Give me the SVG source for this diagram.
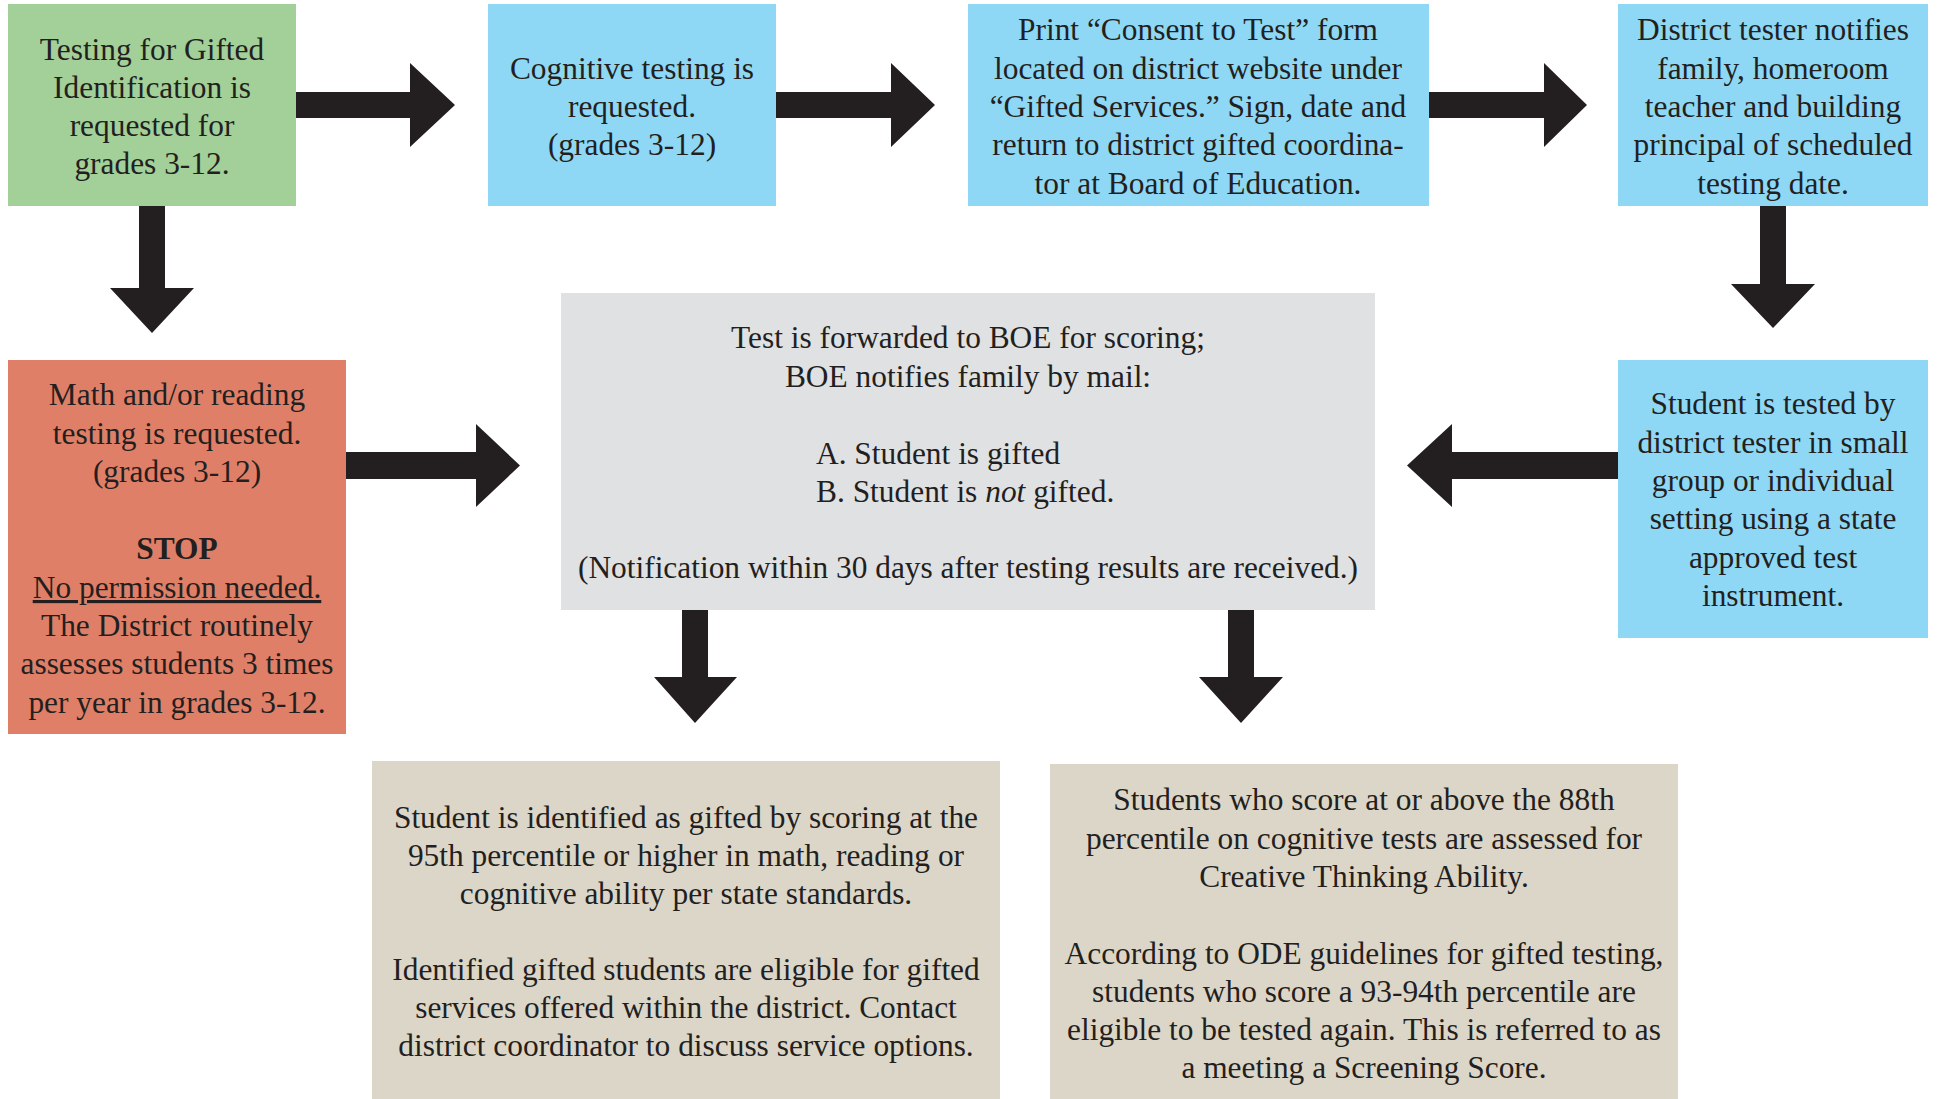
<svg xmlns="http://www.w3.org/2000/svg" width="1937" height="1099" viewBox="0 0 1937 1099">
<style>
text{font-family:"Liberation Serif","Times New Roman",serif;font-size:31.4px;fill:#231f20;text-anchor:middle}
.l{text-anchor:start}
.g{fill:#a3cf98}.b{fill:#8ed8f5}.r{fill:#e07f67}.gr{fill:#e0e1e3}.be{fill:#dcd6c9}
.arr{fill:#231f20}
</style>
<rect width="1937" height="1099" fill="#fff"/>
<g id="n1"><rect class="g" x="8" y="4" width="288" height="202"/>
<text x="152" y="60">Testing for Gifted</text><text x="152" y="98">Identification is</text><text x="152" y="136">requested for</text><text x="152" y="174">grades 3-12.</text></g>
<g id="n2"><rect class="b" x="488" y="4" width="288" height="202"/>
<text x="632" y="79">Cognitive testing is</text><text x="632" y="117">requested.</text><text x="632" y="155">(grades 3-12)</text></g>
<g id="n3"><rect class="b" x="968" y="4" width="461" height="202"/>
<text x="1198" y="40">Print “Consent to Test” form</text><text x="1198" y="79">located on district website under</text><text x="1198" y="117">“Gifted Services.” Sign, date and</text><text x="1198" y="155">return to district gifted coordina-</text><text x="1198" y="194">tor at Board of Education.</text></g>
<g id="n4"><rect class="b" x="1618" y="4" width="310" height="202"/>
<text x="1773" y="40">District tester notifies</text><text x="1773" y="79">family, homeroom</text><text x="1773" y="117">teacher and building</text><text x="1773" y="155">principal of scheduled</text><text x="1773" y="194">testing date.</text></g>
<g id="n5"><rect class="r" x="8" y="360" width="338" height="374"/>
<text x="177" y="405">Math and/or reading</text><text x="177" y="444">testing is requested.</text><text x="177" y="482">(grades 3-12)</text>
<text x="177" y="559" font-weight="bold">STOP</text>
<text x="177" y="598" text-decoration="underline">No permission needed.</text>
<text x="177" y="636">The District routinely</text><text x="177" y="674">assesses students 3 times</text><text x="177" y="713">per year in grades 3-12.</text></g>
<g id="n6"><rect class="gr" x="561" y="293" width="814" height="317"/>
<text x="968" y="348">Test is forwarded to BOE for scoring;</text><text x="968" y="387">BOE notifies family by mail:</text>
<text class="l" x="816" y="464">A. Student is gifted</text><text class="l" x="816" y="502">B. Student is <tspan font-style="italic">not</tspan> gifted.</text>
<text x="968" y="578">(Notification within 30 days after testing results are received.)</text></g>
<g id="n7"><rect class="b" x="1618" y="360" width="310" height="278"/>
<text x="1773" y="414">Student is tested by</text><text x="1773" y="453">district tester in small</text><text x="1773" y="491">group or individual</text><text x="1773" y="529">setting using a state</text><text x="1773" y="568">approved test</text><text x="1773" y="606">instrument.</text></g>
<g id="n8"><rect class="be" x="372" y="761" width="628" height="338"/>
<text x="686" y="828">Student is identified as gifted by scoring at the</text><text x="686" y="866">95th percentile or higher in math, reading or</text><text x="686" y="904">cognitive ability per state standards.</text>
<text x="686" y="980">Identified gifted students are eligible for gifted</text><text x="686" y="1018">services offered within the district. Contact</text><text x="686" y="1056">district coordinator to discuss service options.</text></g>
<g id="n9"><rect class="be" x="1050" y="764" width="628" height="335"/>
<text x="1364" y="810">Students who score at or above the 88th</text><text x="1364" y="849">percentile on cognitive tests are assessed for</text><text x="1364" y="887">Creative Thinking Ability.</text>
<text x="1364" y="964">According to ODE guidelines for gifted testing,</text><text x="1364" y="1002">students who score a 93-94th percentile are</text><text x="1364" y="1040">eligible to be tested again. This is referred to as</text><text x="1364" y="1078">a meeting a Screening Score.</text></g>
<g id="connectors" class="arr">
<polygon points="296,92 410,92 410,63 455,105 410,147 410,118 296,118"/>
<polygon points="776,92 891,92 891,63 935,105 891,147 891,118 776,118"/>
<polygon points="1429,92 1544,92 1544,63 1587,105 1544,147 1544,118 1429,118"/>
<polygon points="139,206 165,206 165,288 194,288 152,333 110,288 139,288"/>
<polygon points="1760,206 1786,206 1786,284 1815,284 1773,328 1731,284 1760,284"/>
<polygon points="346,452 476,452 476,424 520,465.5 476,507 476,479 346,479"/>
<polygon points="1618,452 1452,452 1452,424 1407,465.5 1452,507 1452,479 1618,479"/>
<polygon points="682,610 708,610 708,677 737,677 695,723 654,677 682,677"/>
<polygon points="1228,610 1254,610 1254,677 1283,677 1241,723 1199,677 1228,677"/>
</g>
</svg>
